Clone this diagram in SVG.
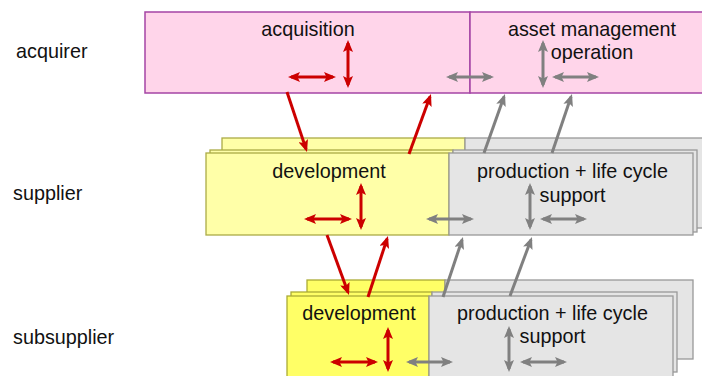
<svg xmlns="http://www.w3.org/2000/svg" width="702" height="376" viewBox="0 0 702 376">
<defs>
<style>
text{font-family:"Liberation Sans",Arial,sans-serif;font-size:19.8px;fill:#111}
.c{text-anchor:middle}
.pink{fill:#FFD5EA;stroke:#A544A5;stroke-width:1.5}
.y1{fill:#FFFFA8;stroke:#ABAB45;stroke-width:1.3}
.y2{fill:#FFFF66;stroke:#ABAB35;stroke-width:1.3}
.g{fill:#E5E5E5;stroke:#999999;stroke-width:1.3}
.r{stroke:#CC0000;stroke-width:3;fill:none}
.gr{stroke:#808080;stroke-width:3;fill:none}
.r2{stroke:#CC0000;stroke-width:3;fill:none;marker-start:url(#ar);marker-end:url(#ar)}
.gr2{stroke:#808080;stroke-width:3;fill:none;marker-start:url(#ag);marker-end:url(#ag)}
.r1{stroke:#CC0000;stroke-width:3;fill:none;marker-end:url(#ar)}
.g1{stroke:#808080;stroke-width:3;fill:none;marker-end:url(#ag)}
</style>
<marker id="ar" viewBox="0 0 12 10" refX="9" refY="5" markerWidth="12" markerHeight="10" markerUnits="userSpaceOnUse" orient="auto-start-reverse">
<path d="M0,0 L12,5 L0,10 L2.5,5 z" fill="#CC0000"/>
</marker>
<marker id="ag" viewBox="0 0 12 10" refX="9" refY="5" markerWidth="12" markerHeight="10" markerUnits="userSpaceOnUse" orient="auto-start-reverse">
<path d="M0,0 L12,5 L0,10 L2.5,5 z" fill="#808080"/>
</marker>
</defs>
<rect width="702" height="376" fill="#ffffff"/>

<g id="lane-labels">
<text x="16" y="58">acquirer</text>
<text x="13" y="200">supplier</text>
<text x="13" y="344">subsupplier</text>
</g>

<g id="acquisition">
<rect class="pink" x="145" y="12" width="325" height="81"/>
<text class="c" x="308" y="36">acquisition</text>
</g>
<g id="asset-management">
<rect class="pink" x="470" y="12" width="233" height="81"/>
<text class="c" x="592" y="36">asset management</text>
<text class="c" x="592" y="59">operation</text>
</g>

<g id="supplier-development">
<rect class="y1" x="222" y="138" width="243" height="90"/>
<rect class="y1" x="210" y="150" width="243" height="82"/>
<rect class="y1" x="206" y="153" width="243" height="82"/>
<text class="c" x="329" y="178">development</text>
</g>
<g id="supplier-production">
<rect class="g" x="465" y="138" width="240" height="90"/>
<rect class="g" x="453" y="150" width="244" height="82"/>
<rect class="g" x="449" y="153" width="244" height="82"/>
<text class="c" x="572.5" y="178">production + life cycle</text>
<text class="c" x="572.5" y="202">support</text>
</g>

<g id="subsupplier-development">
<rect class="y2" x="307" y="280" width="138" height="80"/>
<rect class="y2" x="291" y="292" width="141" height="80"/>
<rect class="y2" x="287" y="296" width="142" height="84"/>
<text class="c" x="359" y="320">development</text>
</g>
<g id="subsupplier-production">
<rect class="g" x="445" y="280" width="248" height="79"/>
<rect class="g" x="432" y="292" width="245" height="80"/>
<rect class="g" x="429" y="296" width="244" height="84"/>
<text class="c" x="552.5" y="320">production + life cycle</text>
<text class="c" x="552.5" y="343">support</text>
</g>

<g id="connectors">
<line class="r2" x1="291" y1="77" x2="333" y2="77"/>
<line class="r2" x1="348" y1="43" x2="348" y2="85"/>
<line class="gr2" x1="449" y1="77" x2="491" y2="77"/>
<line class="gr2" x1="543" y1="43" x2="543" y2="85"/>
<line class="gr2" x1="555" y1="77" x2="596" y2="77"/>

<line class="r2" x1="307" y1="219" x2="349" y2="219"/>
<line class="r2" x1="361" y1="186" x2="361" y2="227"/>
<line class="gr2" x1="429" y1="219" x2="471" y2="219"/>
<line class="gr2" x1="530" y1="186" x2="530" y2="227"/>
<line class="gr2" x1="543" y1="219" x2="584" y2="219"/>

<line class="r2" x1="333" y1="362" x2="375" y2="362"/>
<line class="r2" x1="388" y1="330" x2="388" y2="369"/>
<line class="gr2" x1="409" y1="362" x2="450" y2="362"/>
<line class="gr2" x1="509" y1="329" x2="509" y2="369"/>
<line class="gr2" x1="523" y1="362" x2="564" y2="362"/>

<line class="r1" x1="287" y1="92" x2="306.05" y2="149.15"/>
<line class="r1" x1="409" y1="154" x2="429.97" y2="96.82"/>
<line class="g1" x1="484" y1="153" x2="503.99" y2="96.83"/>
<line class="g1" x1="552" y1="153" x2="571.04" y2="96.84"/>

<line class="r1" x1="327" y1="235" x2="347.97" y2="292.18"/>
<line class="r1" x1="368" y1="297" x2="387.06" y2="238.85"/>
<line class="g1" x1="443" y1="297" x2="462.05" y2="239.85"/>
<line class="g1" x1="510" y1="296" x2="530.95" y2="239.81"/>
</g>
</svg>
